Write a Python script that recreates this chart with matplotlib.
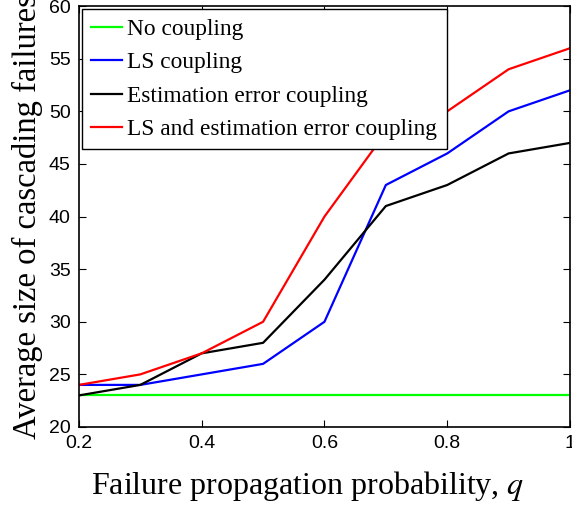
import numpy as np
import matplotlib.pyplot as plt

plt.rcParams['mathtext.fontset'] = 'stix'

# data
q = [0.2, 0.3, 0.4, 0.5, 0.6, 0.7, 0.8, 0.9, 1.0]
no_coupling = [23, 23, 23, 23, 23, 23, 23, 23, 23]
ls_coupling = [24, 24, 25, 26, 30, 43, 46, 50, 52]
est_coupling = [23, 24, 27, 28, 34, 41, 43, 46, 47]
ls_est_coupling = [24, 25, 27, 30, 40, 48, 50, 54, 56]

labels = ["No coupling", "LS coupling", "Estimation error coupling",
          "LS and estimation error coupling"]
xticks = [0.2, 0.4, 0.6, 0.8, 1.0]
xtick_labels = ["0.2", "0.4", "0.6", "0.8", "1"]
yticks = [20, 25, 30, 35, 40, 45, 50, 55, 60]

fig = plt.figure(figsize=(5.72, 5.11), dpi=100)
ax = fig.add_axes([0.138, 0.1644, 0.8585, 0.8236])

ax.plot(q, no_coupling, color='#00ff00', lw=1.6, label=labels[0])
ax.plot(q, ls_coupling, color='#0000ff', lw=1.6, label=labels[1])
ax.plot(q, est_coupling, color='black', lw=1.6, label=labels[2])
ax.plot(q, ls_est_coupling, color='#ff0000', lw=1.6, label=labels[3])

ax.set_xlim(0.2, 1.0)
ax.set_ylim(20, 60)
ax.set_xticks(xticks)
ax.set_xticklabels(xtick_labels)
ax.set_yticks(yticks)
ax.tick_params(direction='in', top=True, right=True, length=5, width=0.8,
               labelsize=14, pad=6)
for lab in ax.get_xticklabels() + ax.get_yticklabels():
    lab.set_fontfamily('Liberation Sans')
for s in ax.spines.values():
    s.set_linewidth(1.2)

ax.set_xlabel("Failure propagation probability, $q$", fontsize=23,
              family='Liberation Serif', va='top')
ax.xaxis.set_label_coords(0.466, -0.1)
ax.set_ylabel("Average size of cascading failures", fontsize=23.5,
              family='Liberation Serif', labelpad=4)

leg = ax.legend(loc='upper left', bbox_to_anchor=(0.006, 0.993), fancybox=False,
                edgecolor='black', framealpha=1, handlelength=1.3,
                handletextpad=0.25, borderpad=0.4, labelspacing=0.52,
                borderaxespad=0,
                prop={'family': 'Liberation Serif', 'size': 16.8})
leg.get_frame().set_linewidth(1.0)

fig.savefig("out.png", dpi=100)
